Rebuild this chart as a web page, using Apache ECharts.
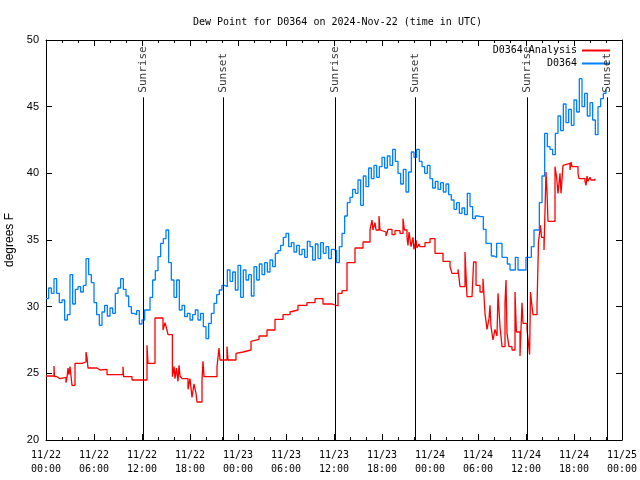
<!DOCTYPE html>
<html><head><meta charset="utf-8">
<script src="https://cdn.jsdelivr.net/npm/echarts@6/dist/echarts.min.js"></script>
<style>html,body{margin:0;padding:0;background:#fff}#c{width:640px;height:480px}</style>
</head><body><div id="c"></div>
<script>
// ---- data ----
const tickDates = ['11/22','11/22','11/22','11/22','11/23','11/23','11/23','11/23','11/24','11/24','11/24','11/24','11/25'];
const tickTimes = ['00:00','06:00','12:00','18:00','00:00','06:00','12:00','18:00','00:00','06:00','12:00','18:00','00:00'];

// D0364 station: one value every 20 minutes starting 11/22 00:00 UTC (degrees F)
const blueStartHour = 0;
const blueStepMinutes = 20;
const blueValues = [
 30.6,31.4,31.0, 32.1,31.0,30.3, 30.5,29.0,29.4, 32.4,30.2,31.3,
 31.5,31.1,31.6, 33.6,32.4,31.8, 30.3,29.4,28.6, 29.6,30.1,29.3,
 29.9,29.5,31.0, 31.4,32.1,31.3, 30.8,30.0,29.5, 29.4,29.7,28.7,
 29.0,29.75,29.75, 30.7,32.0,32.7, 33.75,34.75,35.1, 35.75,33.3,32.0,
 30.7,32.0,29.75, 30.1,29.25,29.5, 29.0,29.4,29.75, 29.0,29.5,28.5,
 27.6,28.75,29.5, 30.25,30.9,31.25, 31.6,31.5,32.75, 31.9,32.6,31.25,
 33.1,30.7,32.75, 32.0,32.4,30.8, 33.0,32.0,33.2, 32.4,33.3,32.6,
 33.5,33.0,34.0, 34.2,34.6,35.2, 35.5,34.5,34.8, 34.1,34.6,33.9,
 34.3,33.7,34.9, 34.5,33.5,34.7, 33.6,34.8,34.0, 34.5,33.6,34.3,
 34.2,33.3,34.5, 35.5,36.8,37.8, 38.2,38.8,38.5, 39.5,37.6,39.8,
 39.0,40.4,39.6, 40.6,39.7,40.5, 41.2,40.4,41.3, 40.6,41.8,40.9,
 40.0,39.2,40.3, 38.6,40.1,41.6, 41.2,41.8,40.9, 40.5,40.0,40.6,
 39.6,38.9,39.4, 38.8,39.3,38.6, 39.2,38.4,38.0, 37.3,37.8,37.0,
 37.4,36.9,38.5, 37.5,36.6,36.8, 36.75,36.75,35.8, 34.75,34.75,33.8,
 33.7,34.75,34.75, 33.7,33.7,33.2, 32.75,32.75,33.7, 32.75,32.75,32.75,
 33.7,33.7,34.5, 35.75,35.75,37.8, 39.8,43.0,42.0, 41.8,41.4,43.0,
 44.3,43.2,45.2, 43.8,44.8,43.6, 45.5,44.6,47.1, 45.0,46.0,44.3,
 45.3,44.0,42.9, 45.0,45.6,46.0, 46.3
];

// D0364 analysis: step changes (hours since 11/22 00:00 UTC, value held until next change)
const redHours = [
 0,1.0,1.06,1.375,1.75,2.5,2.625,2.75,2.875,3.0,3.125,3.25,3.625,4.5,5.0,5.125,5.25,6.375,6.75,7.625,
 9.625,9.7,10.75,12.625,12.75,13.625,14.625,14.875,15.125,15.25,15.8,16.0,16.125,16.3,16.5,16.625,16.75,17.0,17.75,18.0,
 18.25,18.5,18.75,18.875,19.5,19.625,19.75,21.375,21.625,21.75,22.625,22.75,23.75,24.0,24.625,25.625,25.75,26.625,27.625,28.625,
 29.625,30.5,30.75,31.5,32.625,33.625,34.625,35.75,36.5,37.0,37.625,38.625,39.625,40.5,40.75,40.875,41.125,41.25,41.625,41.75,
 42.0,42.5,42.75,43.25,43.625,44.25,44.625,44.8,45.125,45.25,45.375,45.625,45.875,46.0,46.25,46.375,46.625,46.75,47.375,48.0,
 48.625,49.625,50.5,50.75,51.5,51.75,52.375,52.625,53.25,53.45,53.75,54.25,54.625,54.875,55.125,55.375,55.5,55.625,55.875,56.125,
 56.375,56.5,56.75,57.0,57.375,57.5,57.625,57.875,58.25,58.625,58.8,59.25,59.5,59.625,60.125,60.3,60.45,60.56,60.75,60.875,
 61.375,61.56,61.81,61.94,62.25,62.5,62.625,62.75,63.625,63.81,64.0,64.25,64.375,64.625,64.875,65.5,65.625,65.75,66.5,66.625,
 67.375,67.5,67.625,67.75,68.0,68.125,68.625
];
const redValues = [
 24.8,25.55,24.75,24.6,24.7,24.3,24.7,25.4,24.9,25.5,24.8,24.1,25.75,25.85,26.6,26.2,25.4,25.25,25.3,24.9,
 25.5,24.75,24.5,27.1,25.75,29.15,28.25,28.8,28.25,27.9,24.75,25.5,24.6,25.4,24.4,25.6,24.8,24.6,23.8,24.6,
 23.2,24.2,23.5,22.85,24.5,25.9,24.75,25.5,26.9,26.0,27.0,26.0,26.5,26.6,26.75,27.4,27.55,27.8,28.25,29.05,
 29.4,29.6,29.75,30.1,30.3,30.6,30.2,30.05,31.0,31.2,33.3,34.4,34.85,35.75,36.5,35.75,36.3,35.75,36.8,35.75,
 35.6,35.3,35.8,35.4,35.7,35.5,36.6,35.75,35.2,34.6,35.6,34.5,35.2,34.3,35.0,34.4,34.7,34.5,34.8,35.1,
 34.0,33.4,33.0,32.5,32.8,31.5,34.1,30.75,30.6,33.35,31.6,31.1,32.1,29.5,28.3,29.1,30.1,28.5,27.5,28.3,
 27.8,31.0,28.5,27.0,30.3,32.0,28.0,27.0,26.75,31.1,28.1,26.3,30.3,28.75,28.3,27.3,26.4,31.1,30.0,29.4,
 30.0,34.85,36.1,35.2,34.25,40.1,38.6,36.4,40.5,39.8,38.5,40.0,38.5,40.6,40.75,40.25,40.85,40.5,40.0,39.6,
 39.4,39.1,39.8,39.4,39.7,39.5,39.6
];

const sunHours = [12.125, 22.125, 36.125, 46.125, 60.125, 70.125];
const sunLabels = ['Sunrise','Sunset','Sunrise','Sunset','Sunrise','Sunset'];
const sunLineTop = 45.7;
const sunLabelAt = 46.05;

// ---- chart ----
const MONO = '"DejaVu Sans Mono", "Liberation Mono", monospace';
const SANS = '"Liberation Sans", Arial, sans-serif';
const blueData = blueValues.map((v, i) => [blueStartHour + i * blueStepMinutes / 60, v]);
const redData = redHours.map((h, i) => [h, redValues[i]]);

const chart = echarts.init(document.getElementById('c'), null, {renderer: 'canvas'});
const xCommon = {
  type: 'value', min: 0, max: 72, interval: 6,
  axisLine: {show: true, onZero: false, lineStyle: {color: '#000', width: 1}},
  axisTick: {show: true, inside: true, length: 6, lineStyle: {color: '#000'}},
  minorTick: {show: true, splitNumber: 3, length: 3, lineStyle: {color: '#000'}},
  splitLine: {show: false}, minorSplitLine: {show: false}
};
const yCommon = {
  type: 'value', min: 20, max: 50, interval: 5,
  axisLine: {show: true, onZero: false, lineStyle: {color: '#000', width: 1}},
  axisTick: {show: true, inside: true, length: 6, lineStyle: {color: '#000'}},
  splitLine: {show: false}
};
chart.setOption({
  animation: false,
  backgroundColor: '#fff',
  title: {
    text: 'Dew Point for D0364 on 2024-Nov-22 (time in UTC)',
    left: 188, top: 12,
    textStyle: {fontFamily: MONO, fontSize: 10, fontWeight: 'normal', color: '#000'}
  },
  grid: {left: 46, right: 18, top: 40, bottom: 40, outerBoundsMode: 'none'},
  legend: {
    data: ['D0364 Analysis', 'D0364'],
    orient: 'vertical', right: 30, top: 44, align: 'right',
    itemWidth: 28, itemHeight: 2, itemGap: 0, padding: 0,
    icon: 'rect',
    textStyle: {fontFamily: MONO, fontSize: 10, color: '#000', lineHeight: 13}
  },
  xAxis: [
    Object.assign({}, xCommon, {
      position: 'bottom',
      axisLabel: {
        show: true, margin: 8, color: '#000', fontFamily: MONO, fontSize: 10, lineHeight: 14,
        formatter: v => { const k = Math.round(v / 6); return tickDates[k] + '\n' + tickTimes[k]; }
      }
    }),
    Object.assign({}, xCommon, {position: 'top', axisLabel: {show: false}})
  ],
  yAxis: [
    Object.assign({}, yCommon, {
      position: 'left',
      name: 'degrees F', nameLocation: 'middle', nameGap: 28,
      nameTextStyle: {fontFamily: SANS, fontSize: 12, color: '#000'},
      axisLabel: {show: true, margin: 7, color: '#000', fontFamily: SANS, fontSize: 11}
    }),
    Object.assign({}, yCommon, {position: 'right', axisLabel: {show: false}})
  ],
  series: [
    {
      name: 'D0364 Analysis', type: 'line', step: 'end', data: redData,
      showSymbol: false, symbol: 'none', color: '#ff0000',
      lineStyle: {color: '#ff0000', width: 1.3}, z: 3
    },
    {
      name: 'D0364', type: 'line', step: 'end', data: blueData,
      showSymbol: false, symbol: 'none', color: '#0080ff',
      lineStyle: {color: '#0080ff', width: 1.3}, z: 4
    },
    {
      name: 'sun', type: 'scatter', symbolSize: 0, silent: true, z: 5,
      data: sunHours.map(h => [h, sunLabelAt]),
      label: {
        show: true, position: 'inside', rotate: 90, align: 'left', verticalAlign: 'middle',
        fontFamily: MONO, fontSize: 11, color: '#000',
        formatter: p => sunLabels[p.dataIndex]
      },
      markLine: {
        silent: true, symbol: ['none', 'none'], label: {show: false},
        lineStyle: {color: '#000', width: 1, type: 'solid'},
        data: sunHours.map(h => [{coord: [h, 20]}, {coord: [h, sunLineTop]}])
      }
    }
  ]
});
</script>
</body></html>
